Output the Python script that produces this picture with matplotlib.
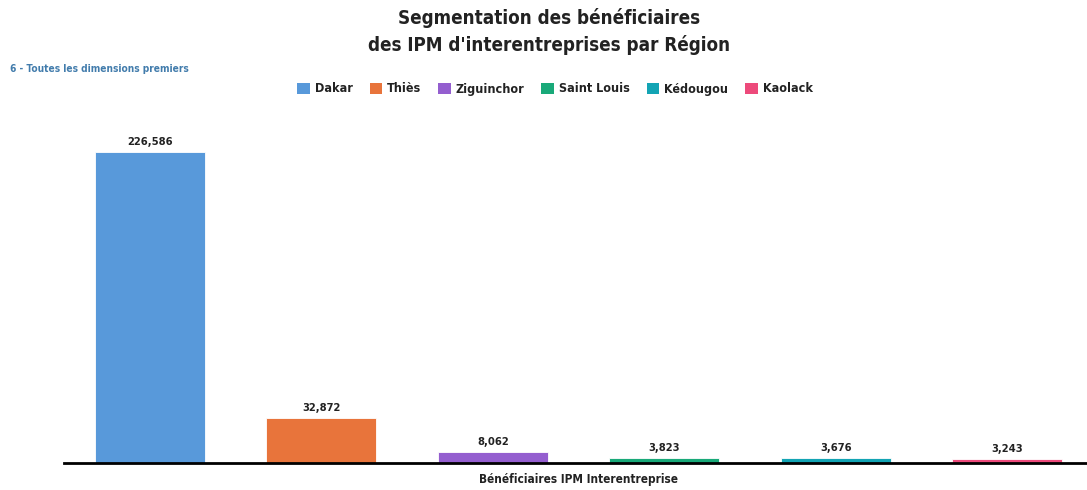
import matplotlib.pyplot as plt
from matplotlib.patches import Patch

regions = ['Dakar', 'Thiès', 'Ziguinchor', 'Saint Louis', 'Kédougou', 'Kaolack']
beneficiaires = [226586, 32872, 8062, 3823, 3676, 3243]
couleurs = ['#5899DA', '#E8743B', '#945ECF', '#19A979', '#13A4B4', '#ED4A7B']

plt.rcParams['font.family'] = ['DejaVu Sans']
plt.rcParams['font.stretch'] = 'condensed'

fig = plt.figure(figsize=(10.87, 4.9), dpi=100)
W, H = 1087, 490
# axes: baseline a y=463px, largeur des slots ~171px
ax = fig.add_axes([64 / W, (H - 463) / H, 1029 / W, 353 / H])

x = list(range(len(regions)))
bars = ax.bar(x, beneficiaires, width=0.64, color=couleurs, edgecolor='white', linewidth=0.6)
ax.set_xlim(-0.5, len(regions) - 0.5)
ax.set_ylim(0, 226586 * 353 / 311)

for b, v in zip(bars, beneficiaires):
    ax.text(b.get_x() + b.get_width() / 2, v + 3500, f'{v:,}', ha='center', va='bottom',
            fontsize=8, fontweight='bold', color='#222222')

for s in ['top', 'right', 'left']:
    ax.spines[s].set_visible(False)
ax.spines['bottom'].set_linewidth(2)
ax.spines['bottom'].set_color('black')
ax.set_yticks([])
ax.set_xticks([])
ax.set_xlabel('Bénéficiaires IPM Interentreprise', fontsize=8.5, fontweight='bold',
              color='#222222', labelpad=7)

fig.text(549 / W, 1 - 18 / H, 'Segmentation des bénéficiaires', ha='center', va='center',
         fontsize=13.5, fontweight='bold', color='#222222')
fig.text(549 / W, 1 - 45 / H, "des IPM d'interentreprises par Région", ha='center', va='center',
         fontsize=13.5, fontweight='bold', color='#222222')
fig.text(10 / W, 1 - 69 / H, '6 - Toutes les dimensions premiers', ha='left', va='center',
         fontsize=7.3, fontweight='bold', color='#427CAC')

handles = [Patch(facecolor=c, edgecolor='none') for c in couleurs]
leg = fig.legend(handles, regions, loc='center', bbox_to_anchor=(555 / W, 1 - 89 / H), ncol=6,
                 frameon=False, handlelength=1.0, handleheight=1.0, handletextpad=0.4,
                 columnspacing=1.35, prop={'size': 9, 'weight': 'bold', 'stretch': 'condensed'})
for t in leg.get_texts():
    t.set_color('#222222')

fig.savefig('out.png', dpi=100)
